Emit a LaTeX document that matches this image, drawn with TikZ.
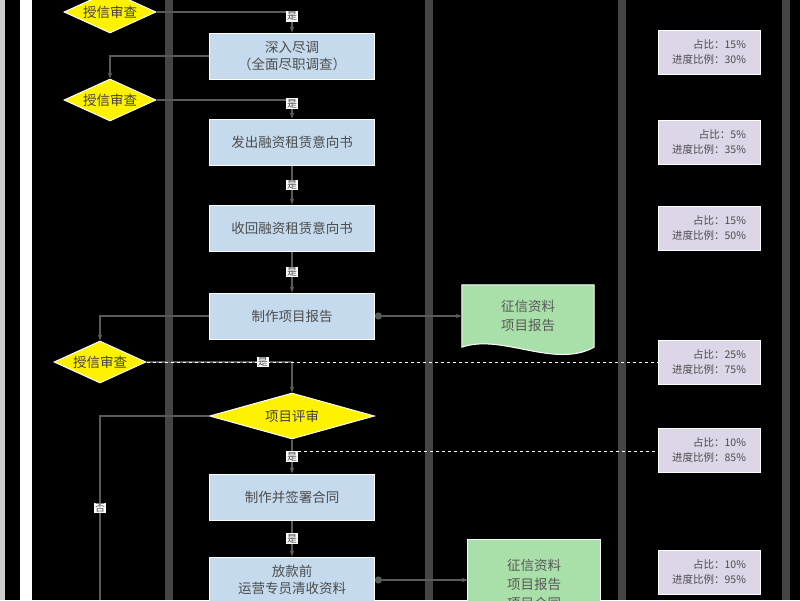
\documentclass[tikz,border=0pt]{standalone}
\usepackage{fontspec}
\newfontfamily\cjk{Noto Sans CJK SC}
\usetikzlibrary{shapes.geometric,arrows.meta}
\definecolor{boxblue}{HTML}{C5DAEC}
\definecolor{docgreen}{HTML}{A9E0A9}
\definecolor{infolav}{HTML}{DCD6E8}
\definecolor{lanegray}{HTML}{454545}
\definecolor{linegray}{HTML}{5A5A5A}
\begin{document}
\begin{tikzpicture}[
            x = 1pt, y = -1pt,
            > = {Stealth[length=6pt]}, % arrow head style
            task/.style = {draw=white, fill=boxblue, line width=1pt, minimum width=165pt, minimum height=46pt, align=center, font=\cjk\fontsize{13.5}{17}\selectfont, text=black!70},
            check/.style = {diamond, aspect=2.4, draw=white, fill=yellow, line width=1pt, inner sep=0pt, minimum width=92pt, minimum height=42pt, font=\cjk\fontsize{13.5}{14}\selectfont, text=black!75},
            doc/.style = {minimum width=132pt, minimum height=62pt, align=center, font=\cjk\fontsize{13.5}{19}\selectfont, text=black!65},
            info/.style = {draw=white, fill=infolav, minimum width=102pt, minimum height=44pt, align=right, font=\cjk\fontsize{10.5}{15}\selectfont, text=black!70},
            flow/.style = {draw=linegray, line width=2.5pt, ->},
            ratiolink/.style = {draw=white, line width=1pt, dashed},
            flowtag/.style = {fill=white, inner sep=1pt, font=\cjk\fontsize{10}{10}\selectfont, text=black!70}
        ]
\clip (0,0) rectangle (800,600);
\fill[black] (0,0) rectangle (800,600);
\fill[white!80!black] (0,0) rectangle (5,600);
\fill[white] (20,0) rectangle (32,600);
\foreach \lx in {169,429,622,786}
  \fill[lanegray] (\lx-4,0) rectangle (\lx+4,600);

\node[check] (D1) at (110,12) {授信审查};
\node[task] (R1) at (292,56) {深入尽调\\（全面尽职调查）};
\node[check] (D2) at (110,100) {授信审查};
\node[task] (R2) at (292,142) {发出融资租赁意向书};
\node[task] (R3) at (292,228) {收回融资租赁意向书};
\node[task] (R4) at (292,316) {制作项目报告};
\node[doc] (F1) at (528,316) {};
\node[check] (D3) at (100,362) {授信审查};
\node[check, minimum width=165pt, minimum height=46pt] (D4) at (292,416) {项目评审};
\node[task] (R5) at (292,497) {制作并签署合同};
\node[task] (R6) at (292,580) {放款前\\运营专员清收资料};
\node[doc, minimum height=80pt] (F2) at (534,580) {};

% document shapes
\filldraw[draw=white, fill=docgreen, line width=1pt] (F1.north west) -- (F1.north east) -- (F1.south east)
  .. controls ([xshift=-40pt,yshift=-22pt]F1.south east) and ([xshift=40pt,yshift=14pt]F1.south west) .. (F1.south west) -- cycle;
\node[doc] at (F1) {征信资料\\项目报告};
\filldraw[draw=white, fill=docgreen, line width=1pt] (F2.north west) rectangle (F2.south east);
\node[doc, minimum height=80pt, yshift=-4pt] at (F2) {征信资料\\项目报告\\项目合同};

\node[info] (P1) at (709,52) {占比：15\%\\进度比例：30\%};
\node[info] (P2) at (709,142) {占比：5\%\\进度比例：35\%};
\node[info] (P3) at (709,228) {占比：15\%\\进度比例：50\%};
\node[info] (P4) at (709,362) {占比：25\%\\进度比例：75\%};
\node[info] (P5) at (709,450) {占比：10\%\\进度比例：85\%};
\node[info] (P6) at (709,572) {占比：10\%\\进度比例：95\%};

\draw[flow] (D1.east) -| node[flowtag, pos=0.6] {是} (R1.north);
\draw[flow] (R1.west) -| (D2.north);
\draw[flow] (D2.east) -| node[flowtag, pos=0.6] {是} (R2.north);
\draw[flow] (R2) -- node[flowtag] {是} (R3);
\draw[flow] (R3) -- node[flowtag] {是} (R4);
\draw[flow, {Circle[length=7pt]}-{Stealth[length=6pt]}] (R4.east) -- (F1.west);
\draw[flow] (R4.west) -| (D3.north);
\draw[flow] (D3.east) -| node[flowtag, pos=0.4] {是} (D4.north);
\draw[flow] (D4) -- node[flowtag] {是} (R5);
\coordinate (bottom) at (100,600);
\draw[flow, -] (D4.west) -| node[flowtag, pos=0.75] {否} (bottom);
\draw[flow] (R5) -- node[flowtag] {是} (R6);
\draw[flow, {Circle[length=7pt]}-{Stealth[length=6pt]}] (R6.east) -- (F2.west);

\draw[ratiolink] (D3.east) -- (P4.west);
\coordinate (d4r) at ([yshift=-12pt]D4.south);
\draw[ratiolink] (d4r) -- (d4r -| P5.west);
\end{tikzpicture}
\end{document}
